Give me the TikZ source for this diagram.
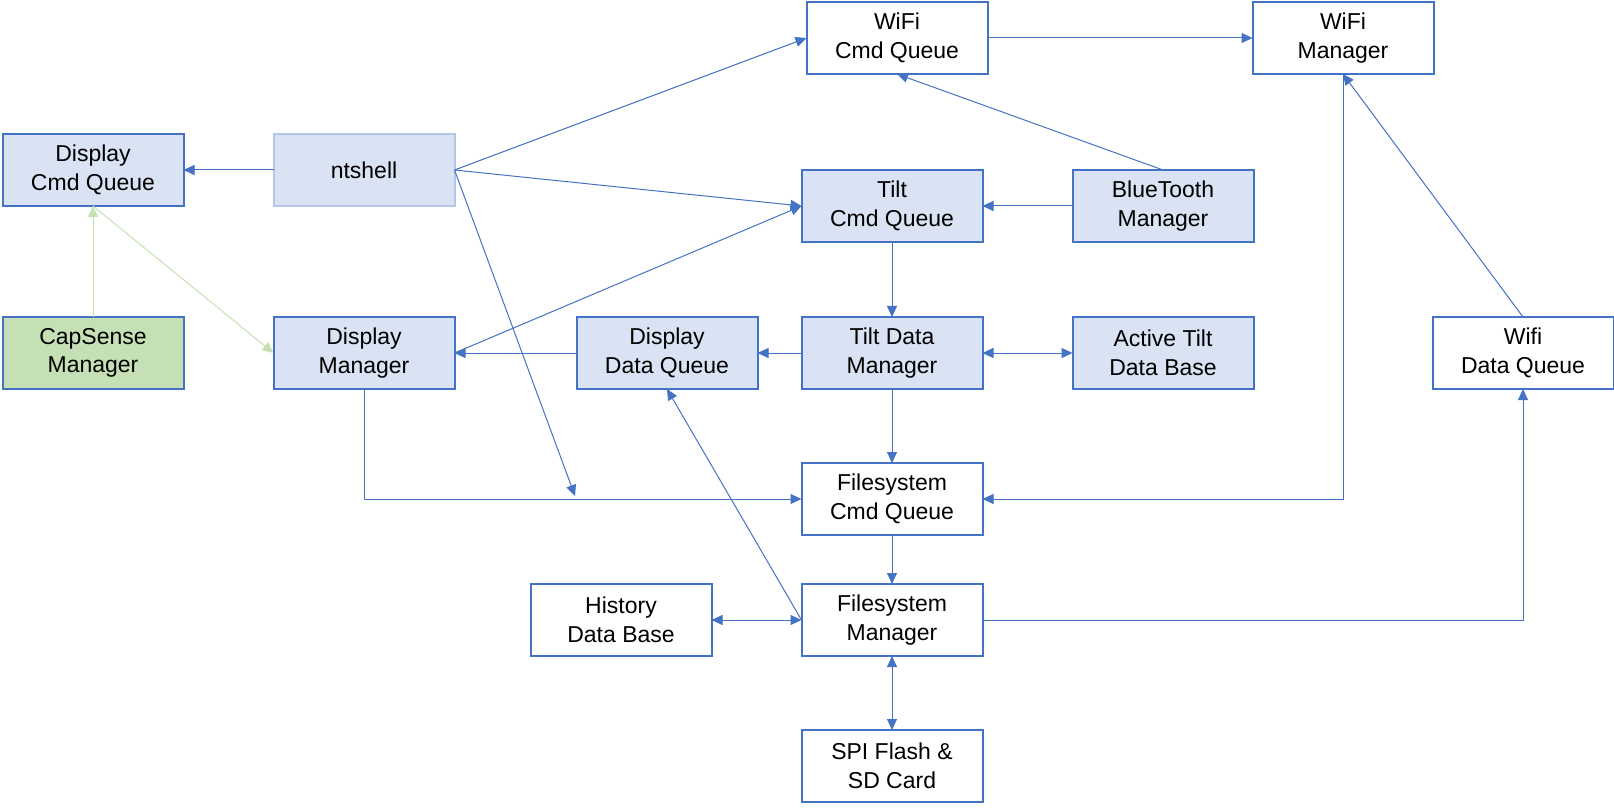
\documentclass[tikz,border=0pt]{standalone}
\usepackage{fontspec}
\setmainfont{Liberation Sans}
\usetikzlibrary{arrows.meta}
\definecolor{lnblue}{HTML}{4472C4}
\definecolor{fillblue}{HTML}{DAE3F3}
\definecolor{fillgreen}{HTML}{C5E0B4}
\definecolor{lightborder}{HTML}{B4C7E7}
\definecolor{greenline}{HTML}{C5E0B4}
\begin{document}
\begin{tikzpicture}[x=1pt,y=-1pt,
 box/.style={draw=lnblue, line width=2pt, minimum width=181pt, minimum height=72pt, inner sep=0pt, outer sep=0pt, align=center, font=\fontsize{23}{28.5}\selectfont, fill=white},
 bluebox/.style={box, fill=fillblue},
 greenbox/.style={box, fill=fillgreen},
 conn/.style={draw=lnblue, line width=1pt, -{Triangle[length=11pt,width=10pt]}},
 bidir/.style={draw=lnblue, line width=1pt, {Triangle[length=11pt,width=10pt]}-{Triangle[length=11pt,width=10pt]}},
 gconn/.style={draw=greenline, line width=1pt, -{Triangle[length=11pt,width=10pt]}}
]
\useasboundingbox (0,0) rectangle (1614,810);

\node[box]      (WCQ)  at (897,38)  {WiFi\\Cmd Queue};
\node[box]      (WM)   at (1343,38) {WiFi\\Manager};
\node[bluebox]  (DCQ)  at (93,170)  {Display\\Cmd Queue};
\node[bluebox, draw=lightborder] (NT) at (364,170) {ntshell};
\node[bluebox]  (TCQ)  at (892,206) {Tilt\\Cmd Queue};
\node[bluebox]  (BT)   at (1163,206) {BlueTooth\\Manager};
\node[greenbox] (CS)   at (93,353)  {CapSense\\Manager};
\node[bluebox]  (DM)   at (364,353) {Display\\Manager};
\node[bluebox]  (DDQ)  at (667,353) {Display\\Data Queue};
\node[bluebox]  (TDM)  at (892,353) {Tilt Data\\Manager};
\node[bluebox]  (ATDB) at (1163,353) {Active Tilt\\Data Base};
\node[box]      (WDQ)  at (1523,353) {Wifi\\Data Queue};
\node[box]      (FCQ)  at (892,499) {Filesystem\\Cmd Queue};
\node[box]      (HDB)  at (621,620) {History\\Data Base};
\node[box]      (FM)   at (892,620) {Filesystem\\Manager};
\node[box]      (SPI)  at (892,766) {SPI Flash \&\\SD Card};

\coordinate (ntend) at (575,496);

\draw[conn] (NT.west) -- (DCQ.east);
\draw[gconn] (CS.north) -- (DCQ.south);
\draw[gconn] (DCQ.south) -- (DM.west);
\draw[conn] (NT.east) -- (WCQ.west);
\draw[conn] (NT.east) -- (TCQ.west);
\draw[conn] (NT.east) -- (ntend);
\draw[conn] (DM.east) -- (TCQ.west);
\draw[conn] (DDQ.west) -- (DM.east);
\draw[conn] (TDM.west) -- (DDQ.east);
\draw[conn] (TCQ.south) -- (TDM.north);
\draw[conn] (TDM.south) -- (FCQ.north);
\draw[bidir] (TDM.east) -- (ATDB.west);
\draw[conn] (BT.west) -- (TCQ.east);
\draw[conn] (BT.north) -- (WCQ.south);
\draw[conn] (WCQ.east) -- (WM.west);
\draw[conn] (WDQ.north) -- (WM.south);
\draw[conn] (WM.south) |- (FCQ.east);
\draw[conn] (FM.east) -| (WDQ.south);
\draw[conn] (FCQ.south) -- (FM.north);
\draw[bidir] (HDB.east) -- (FM.west);
\draw[bidir] (FM.south) -- (SPI.north);
\draw[conn] (DM.south) |- (FCQ.west);
\draw[conn] (FM.west) -- (DDQ.south);
\end{tikzpicture}
\end{document}
